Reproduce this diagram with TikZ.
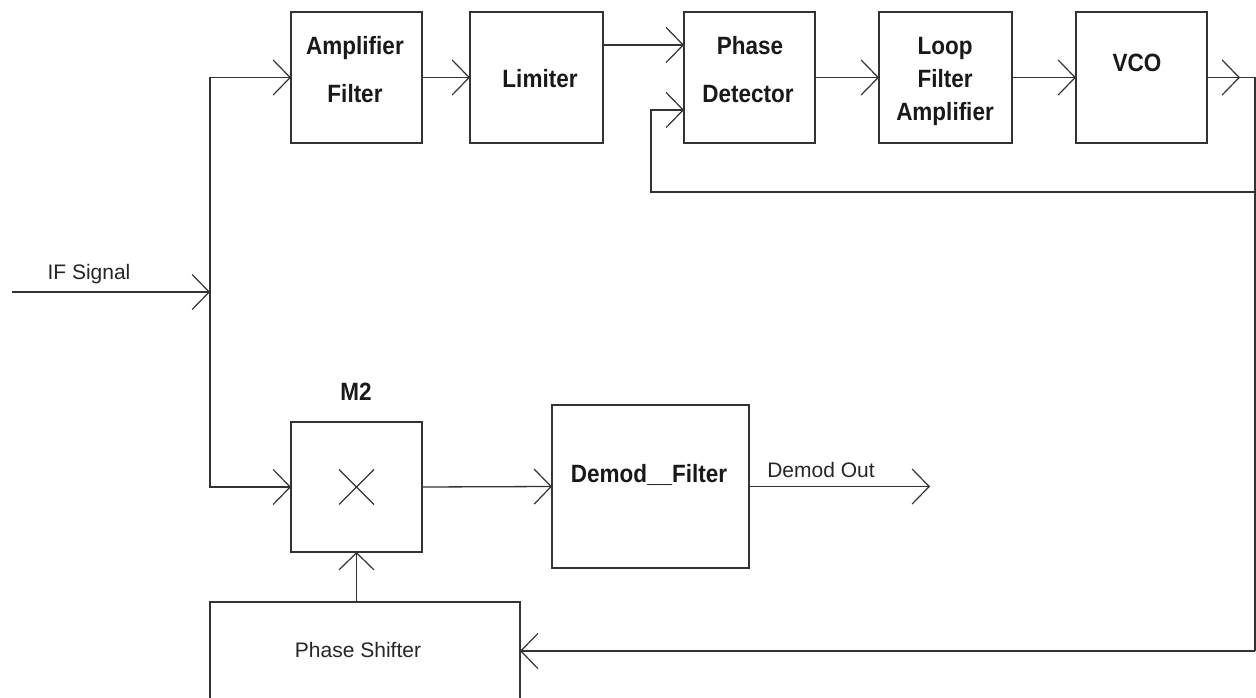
\documentclass[tikz,border=0pt]{standalone}
\usepackage{fontspec}
\setmainfont{Liberation Sans}
\newfontfamily\titlefont[FakeStretch=0.9]{Liberation Sans}
\usetikzlibrary{arrows.meta,calc}
\begin{document}
\begin{tikzpicture}[x=1pt,y=-1pt,
  line/.style={draw=black!80,line width=1.3pt},
  arr/.style={line,-{Straight Barb[length=17pt,width=35pt,line width=1.2pt]}},
  blk/.style={draw=black!80,line width=1.4pt,rectangle,inner sep=0pt,outer sep=0pt,fill=none},
  title/.style={anchor=base,inner sep=0pt,text=black!90,font=\titlefont\fontsize{25}{29}\selectfont\bfseries},
  lbl/.style={anchor=base,inner sep=0pt,text=black!85,font=\fontsize{21}{25}\selectfont}]
\fill[white] (0,0) rectangle (1256,698);
\clip (0,0) rectangle (1256,698);
% blocks
\node[blk,minimum width=131pt,minimum height=131pt] (amp) at (356.5,77.5) {};
\node[blk,minimum width=133pt,minimum height=131pt] (lim) at (536.5,77.5) {};
\node[blk,minimum width=131pt,minimum height=131pt] (pd)  at (749.5,77.5) {};
\node[blk,minimum width=133pt,minimum height=131pt] (lf)  at (945.5,77.5) {};
\node[blk,minimum width=131pt,minimum height=131pt] (vco) at (1141.5,77.5) {};
\node[blk,minimum width=131pt,minimum height=130pt] (m2)  at (356.5,487) {};
\node[blk,minimum width=197pt,minimum height=163pt] (dem) at (650.5,486.5) {};
\node[blk,minimum width=310pt,minimum height=98pt]  (ps)  at (365,651) {};
% texts
\node[title] (tamp1) at (355,55) {Amplifier};
\node[title] (tamp2) at (355,103) {Filter};
\node[title] (tlim) at (540,88) {Limiter};
\node[title] (tpd1) at (750,55) {Phase};
\node[title] (tpd2) at (748,103) {Detector};
\node[title] (tlf1) at (945,55) {Loop};
\node[title] (tlf2) at (945,88) {Filter};
\node[title] (tlf3) at (945,121) {Amplifier};
\node[title] (tvco) at (1137,72) {VCO};
\node[title] (tm2) at (356,400) {M2};
\node[title] (tdem) at (649,482) {Demod\_\_Filter};
\node[lbl] (tout) at (821,477) {Demod Out};
\node[lbl] (tif) at (89,279) {IF Signal};
\node[lbl] (tps) at (358,657) {Phase Shifter};
% multiplier cross
\draw[line,line width=1.2pt] ($(m2.center)+(-17.5,-17.5)$) -- ($(m2.center)+(17.5,17.5)$);
\draw[line,line width=1.2pt] ($(m2.center)+(-17.5,17.5)$) -- ($(m2.center)+(17.5,-17.5)$);
% coordinates
\coordinate (ifin) at (12,292);
\coordinate (bus) at (210,292);
\coordinate (vcoarr) at (1240,77.5);
\coordinate (rtop) at (1255,77.5);
\coordinate (rfb) at (1255,192);
\coordinate (rbot) at (1255,651);
\coordinate (fbl) at (651,192);
\coordinate (out) at (930,486.5);
% connectors
\draw[arr] (ifin) -- (bus);
\draw[arr] (bus) |- (amp.west);
\draw[arr] (bus) |- (m2.west);
\draw[arr] (amp.east) -- (lim.west);
\draw[arr] ([yshift=32.5pt]lim.east) -- ([yshift=32.5pt]pd.west);
\draw[arr] (pd.east) -- (lf.west);
\draw[arr] (lf.east) -- (vco.west);
\draw[arr] (vco.east) -- (vcoarr);
\draw[line] (vcoarr) -- (rtop) -- (rbot);
\draw[arr] (rfb) -- (fbl) |- ([yshift=-32.5pt]pd.west);
\draw[arr] (rbot) -- (ps.east);
\draw[arr] (m2.south |- ps.north) -- (m2.south);
\draw[arr] (m2.east) -- (dem.west);
\draw[arr] (dem.east) -- (out);
\end{tikzpicture}
\end{document}
